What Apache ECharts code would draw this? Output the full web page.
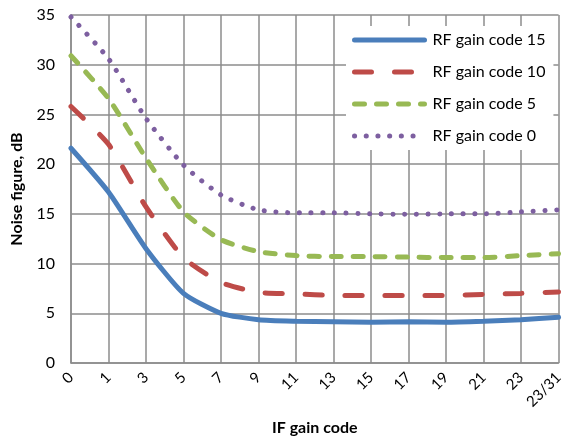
<!DOCTYPE html>
<html>
<head>
<meta charset="utf-8">
<script src="https://cdn.jsdelivr.net/npm/echarts@6/dist/echarts.min.js"></script>
<style>
  html, body { margin: 0; padding: 0; background: #fff; }
  #chart { width: 566px; height: 441px; }
</style>
</head>
<body>
<div id="chart"></div>
<script>
// IF gain code categories
const categories = ['0', '1', '3', '5', '7', '9', '11', '13', '15', '17', '19', '21', '23', '23/31'];
const yTicks = [0, 5, 10, 15, 20, 25, 30, 35];

// noise figure (dB) per RF gain code
const rf15 = [21.6, 17.2, 11.5, 7.0, 5.0, 4.35, 4.2, 4.15, 4.1, 4.15, 4.1, 4.2, 4.35, 4.6];
const rf10 = [25.8, 22.0, 15.7, 10.6, 8.1, 7.1, 6.95, 6.8, 6.8, 6.8, 6.8, 6.9, 7.0, 7.15];
const rf5 = [30.9, 26.6, 20.6, 15.2, 12.4, 11.2, 10.8, 10.7, 10.7, 10.65, 10.6, 10.6, 10.8, 11.0];
const rf0 = [34.8, 30.6, 24.6, 19.9, 16.9, 15.4, 15.1, 15.1, 15.0, 14.95, 15.0, 15.0, 15.2, 15.4];

const font = 'Lato, "Open Sans", sans-serif';
const gridColor = '#8c8c8c';

const chart = echarts.init(document.getElementById('chart'));

function lineSeries(name, data, color, dash) {
    return {
        name: name,
        type: 'line',
        data: data,
        symbol: 'none',
        smooth: 0.2,
        color: color,
        lineStyle: {
            color: color,
            width: 5,
            type: dash,
            cap: 'round'
        }
    };
}

const option = {
    animation: false,
    backgroundColor: '#fff',
    grid: {
        left: 71,
        right: 6,
        top: 15,
        bottom: 72
    },
    legend: {
        orient: 'vertical',
        left: 346,
        top: 26,
        backgroundColor: '#fff',
        padding: [6, 8, 6, 6],
        itemWidth: 70,
        itemHeight: 14,
        itemGap: 16,
        itemStyle: { opacity: 0 },
        lineStyle: { width: 5, cap: 'round' },
        textStyle: {
            fontFamily: font,
            fontSize: 16,
            color: '#000',
            padding: [0, 0, 0, 3]
        },
        data: ['RF gain code 15', 'RF gain code 10', 'RF gain code 5', 'RF gain code 0']
    },
    xAxis: {
        type: 'category',
        data: categories,
        boundaryGap: false,
        name: 'IF gain code',
        nameLocation: 'middle',
        nameGap: 57,
        nameTextStyle: {
            fontFamily: font,
            fontSize: 16,
            fontWeight: 'bold',
            color: '#000'
        },
        axisLine: { lineStyle: { color: gridColor, width: 1.5 } },
        axisTick: { show: false },
        axisLabel: {
            rotate: 45,
            interval: 0,
            margin: 12,
            fontFamily: font,
            fontSize: 15,
            color: '#000'
        },
        splitLine: { show: true, lineStyle: { color: gridColor, width: 1.5 } }
    },
    yAxis: {
        type: 'value',
        min: yTicks[0],
        max: yTicks[yTicks.length - 1],
        interval: 5,
        name: 'Noise figure, dB',
        nameLocation: 'middle',
        nameGap: 46,
        nameTextStyle: {
            fontFamily: font,
            fontSize: 16,
            fontWeight: 'bold',
            color: '#000'
        },
        axisLine: { show: true, lineStyle: { color: gridColor, width: 1.5 } },
        axisTick: { show: false },
        axisLabel: {
            margin: 16,
            fontFamily: font,
            fontSize: 16,
            color: '#000'
        },
        splitLine: { show: true, lineStyle: { color: gridColor, width: 1.5 } }
    },
    series: [
        lineSeries('RF gain code 15', rf15, '#4a7ebb', 'solid'),
        lineSeries('RF gain code 10', rf10, '#be4b48', [17, 23]),
        lineSeries('RF gain code 5', rf5, '#98b954', [10, 12]),
        lineSeries('RF gain code 0', rf0, '#7d5fa0', [0.1, 11.6])
    ]
};

chart.setOption(option);
</script>
</body>
</html>
